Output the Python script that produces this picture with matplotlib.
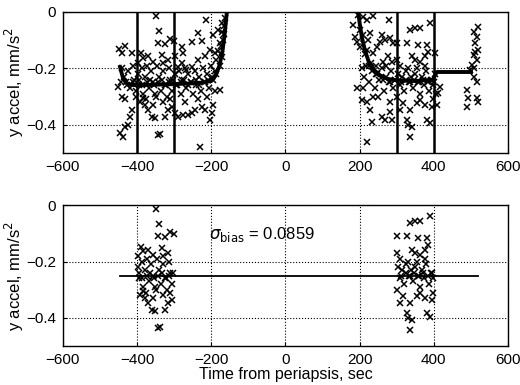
import matplotlib
matplotlib.use("Agg")
import matplotlib.pyplot as plt
import numpy as np

plt.rcParams["font.family"] = ["Liberation Sans", "DejaVu Sans"]
plt.rcParams["font.size"] = 11

# raw y-accel samples (time from periapsis, sec ; mm/s^2)
t_in = [-348, -341, -343, -325, -312, -300, -449, -433, -442, -415, -390, -384, -397,
        -370, -357, -334, -330, -316, -298, -278, -276, -253, -235, -226, -213, -195,
        -183, -172, -177, -190, -204, -217, -235, -253, -267, -280, -289,
        -440, -436, -430, -425, -420, -412, -408, -404, -398, -394, -388, -383, -378,
        -372, -367, -362, -356, -352, -346, -341, -336, -330, -326, -320, -315, -310,
        -305, -299, -294, -288, -283, -278, -272, -267, -262, -256, -250, -245, -240,
        -234, -229, -223, -218, -212, -207, -201, -196, -191, -186, -181, -177, -173,
        -170, -167, -165, -163, -168, -171, -175,
        -451, -442, -433, -415, -420, -424, -433, -446, -438, -402, -384, -379, -370,
        -361, -352, -343, -339, -325, -316, -307, -298, -289, -276, -262, -253, -244,
        -226, -217, -204, -199, -195, -231, -177, -392, -375, -356, -348, -330, -310,
        -270, -236, -212, -190,
        -444, -428, -410, -396, -386, -374, -364, -354, -344, -334, -322, -313, -303,
        -292, -282, -274, -264, -254, -242, -232, -221, -210, -199, -186]
a_in = [-0.014, -0.066, -0.109, -0.114, -0.097, -0.102, -0.130, -0.121, -0.147, -0.144,
        -0.147, -0.164, -0.182, -0.158, -0.176, -0.153, -0.182, -0.170, -0.158, -0.123,
        -0.147, -0.105, -0.073, -0.102, -0.028, -0.082, -0.064, -0.040, -0.111, -0.147,
        -0.135, -0.158, -0.170, -0.194, -0.206, -0.182, -0.194,
        -0.20, -0.23, -0.25, -0.21, -0.27, -0.19, -0.24, -0.28, -0.22, -0.26, -0.20,
        -0.29, -0.23, -0.19, -0.27, -0.21, -0.25, -0.29, -0.19, -0.23, -0.28, -0.21,
        -0.26, -0.30, -0.20, -0.24, -0.28, -0.22, -0.26, -0.21, -0.29, -0.24, -0.20,
        -0.27, -0.22, -0.25, -0.29, -0.21, -0.26, -0.23, -0.28, -0.20, -0.25, -0.22,
        -0.27, -0.19, -0.24, -0.21, -0.17, -0.14, -0.19, -0.12, -0.16, -0.08, -0.05,
        -0.02, -0.10, -0.07, -0.15,
        -0.265, -0.300, -0.310, -0.348, -0.371, -0.401, -0.407, -0.430, -0.442, -0.300,
        -0.306, -0.330, -0.348, -0.371, -0.377, -0.436, -0.433, -0.371, -0.348, -0.336,
        -0.359, -0.371, -0.365, -0.365, -0.359, -0.348, -0.336, -0.348, -0.383, -0.359,
        -0.330, -0.478, -0.277, -0.32, -0.31, -0.33, -0.30, -0.32, -0.31, -0.32, -0.31,
        -0.30, -0.28,
        -0.25, -0.26, -0.25, -0.24, -0.26, -0.25, -0.24, -0.26, -0.25, -0.24, -0.26,
        -0.25, -0.24, -0.26, -0.25, -0.24, -0.26, -0.25, -0.24, -0.26, -0.25, -0.24,
        -0.23, -0.22]

t_out = [196, 210, 219, 235, 280, 183, 201, 187, 210, 228, 223, 259, 255, 268, 282, 291,
         300, 327, 336, 349, 363, 390, 358, 381, 385, 376, 403, 349, 363, 340, 277, 264,
         286, 300, 246, 237, 219, 201, 192,
         205, 212, 218, 225, 232, 240, 247, 253, 260, 266, 272, 278, 284, 290, 296, 302,
         308, 314, 320, 326, 332, 338, 344, 350, 356, 362, 368, 374, 380, 386, 392, 398,
         402, 405, 398, 230, 245, 270, 310, 330, 355, 375,
         192, 210, 205, 219, 237, 250, 228, 232, 259, 268, 282, 286, 309, 318, 327, 336,
         354, 363, 376, 381, 390, 394, 408, 417, 412, 329, 340, 336, 219, 282, 300,
         520, 507, 516, 511, 520, 507, 516, 502, 498, 507, 516, 507, 511, 489, 493, 516,
         520, 490,
         215, 226, 243, 262, 281, 296, 312, 324, 336, 347, 359, 371, 383, 395, 401]
a_out = [-0.011, -0.017, -0.028, -0.014, -0.028, -0.046, -0.064, -0.088, -0.082, -0.076,
         -0.099, -0.082, -0.105, -0.099, -0.093, -0.111, -0.111, -0.111, -0.064, -0.058,
         -0.058, -0.040, -0.117, -0.117, -0.141, -0.158, -0.147, -0.170, -0.176, -0.158,
         -0.158, -0.176, -0.176, -0.170, -0.123, -0.147, -0.135, -0.123, -0.105,
         -0.20, -0.23, -0.19, -0.25, -0.21, -0.27, -0.22, -0.24, -0.20, -0.28, -0.23,
         -0.25, -0.21, -0.27, -0.24, -0.22, -0.26, -0.23, -0.28, -0.21, -0.25, -0.23,
         -0.27, -0.22, -0.25, -0.29, -0.23, -0.26, -0.21, -0.28, -0.24, -0.26, -0.22,
         -0.29, -0.31, -0.18, -0.19, -0.19, -0.19, -0.20, -0.20, -0.19,
         -0.271, -0.271, -0.312, -0.318, -0.300, -0.300, -0.348, -0.389, -0.371, -0.383,
         -0.354, -0.383, -0.348, -0.324, -0.383, -0.348, -0.324, -0.312, -0.330, -0.383,
         -0.395, -0.336, -0.330, -0.265, -0.289, -0.401, -0.407, -0.442, -0.460, -0.318,
         -0.300,
         -0.052, -0.070, -0.088, -0.111, -0.135, -0.153, -0.170, -0.188, -0.206, -0.229,
         -0.247, -0.200, -0.141, -0.277, -0.306, -0.306, -0.318, -0.336,
         -0.15, -0.19, -0.22, -0.24, -0.25, -0.24, -0.25, -0.24, -0.25, -0.24, -0.25,
         -0.24, -0.25, -0.24, -0.25]

# smoothed fit through each pass
fit_in_t = [-446, -438, -430, -420, -400, -350, -300, -250, -220, -200, -188, -178,
            -170, -165, -161, -158]
fit_in_a = [-0.195, -0.235, -0.250, -0.258, -0.260, -0.258, -0.256, -0.253, -0.250,
            -0.245, -0.225, -0.190, -0.140, -0.090, -0.040, 0.0]
fit_out_t = [196, 200, 206, 214, 224, 238, 255, 275, 300, 350, 398, 403, 408, 500]
fit_out_a = [0.0, -0.040, -0.090, -0.135, -0.175, -0.205, -0.225, -0.237, -0.243,
             -0.245, -0.240, -0.225, -0.213, -0.213]

windows = [(-400, -300), (300, 400)]
bias = -0.25
bias_span = (-445, 518)
sigma_bias = 0.0859

t_all = np.array(t_in + t_out)
a_all = np.array(a_in + a_out)
keep = np.zeros(len(t_all), bool)
for lo, hi in windows:
    keep |= (t_all >= lo) & (t_all <= hi)

fig, (ax1, ax2) = plt.subplots(2, 1, figsize=(5.2, 3.85), dpi=100)
fig.subplots_adjust(left=0.121, right=0.977, top=0.969, bottom=0.101, hspace=0.37)

ax1.plot(t_all, a_all, "x", color="black", ms=4, mew=1.1)
ax1.plot(fit_in_t, fit_in_a, "-", color="black", lw=2.8)
ax1.plot(fit_out_t, fit_out_a, "-", color="black", lw=2.8)
for lo, hi in windows:
    ax1.axvline(lo, color="black", lw=1.8)
    ax1.axvline(hi, color="black", lw=1.8)

ax2.plot(t_all[keep], a_all[keep], "x", color="black", ms=4, mew=1.1)
ax2.plot(bias_span, [bias, bias], "-", color="black", lw=1.3)
ax2.text(-205, -0.105, r"$\sigma_{\rm bias}$ = %.4f" % sigma_bias, fontsize=12,
         va="center", ha="left")
ax2.set_xlabel("Time from periapsis, sec", labelpad=0, fontsize=11.5)

for ax in (ax1, ax2):
    ax.set_xlim(-600, 600)
    ax.set_ylim(-0.5, 0)
    ax.set_xticks([-600, -400, -200, 0, 200, 400, 600])
    ax.set_yticks([-0.4, -0.2, 0])
    ax.set_yticklabels(["\u22120.4", "\u22120.2", "0"])
    ax.grid(True, linestyle=":", color="black", lw=0.8)
    ax.tick_params(direction="in", length=3, width=0.8, pad=5)
    ax.set_ylabel("y accel, mm/s$^2$", labelpad=0, fontsize=12)
    for s in ax.spines.values():
        s.set_linewidth(1.0)

fig.savefig("out.png", dpi=100)
